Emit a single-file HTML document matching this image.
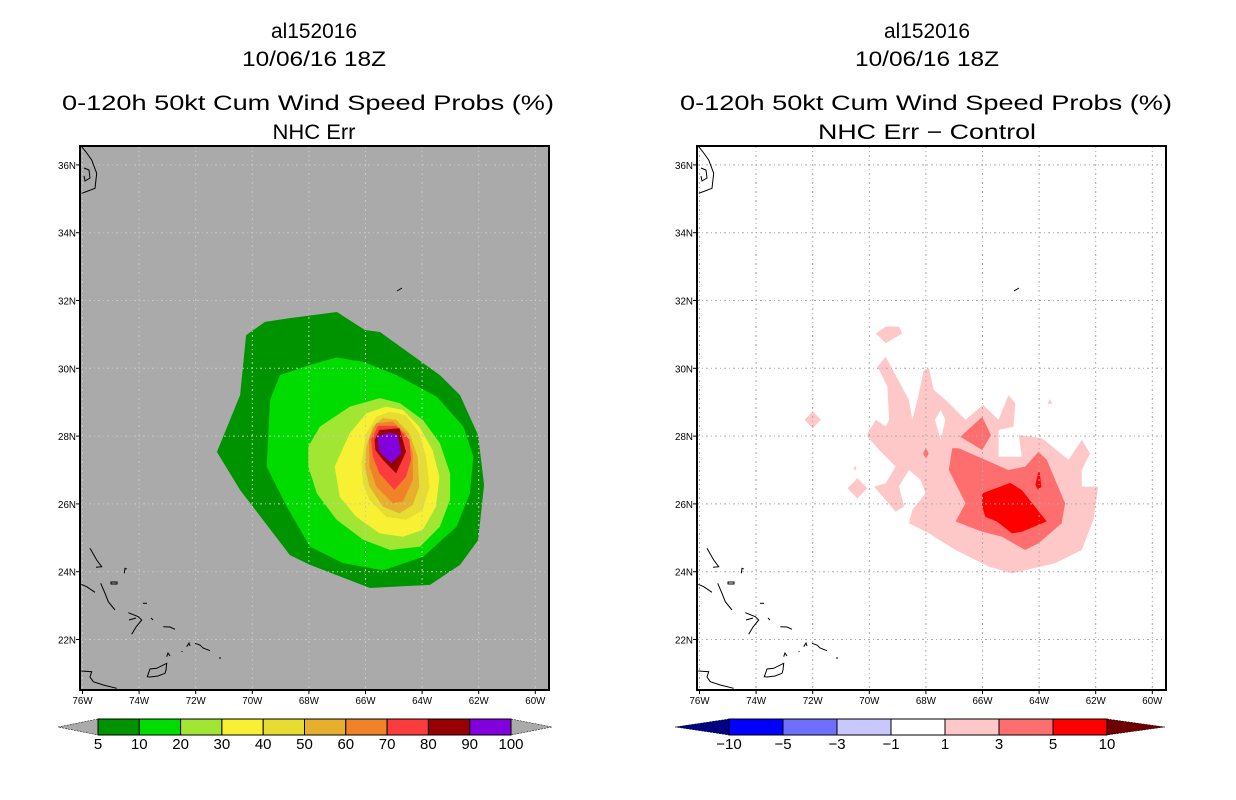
<!DOCTYPE html>
<html><head><meta charset="utf-8"><style>
html,body{margin:0;padding:0;background:#fff;}
svg{display:block;font-family:"Liberation Sans",sans-serif;}
</style></head><body>
<svg id="fig" width="1236" height="800" viewBox="0 0 1236 800" xmlns="http://www.w3.org/2000/svg">
  <g font-size="21" text-anchor="middle" fill="#000">
    <text x="314" y="38" textLength="86" lengthAdjust="spacingAndGlyphs">al152016</text>
    <text x="314" y="66" textLength="144" lengthAdjust="spacingAndGlyphs">10/06/16 18Z</text>
    <text x="308" y="110" textLength="492" lengthAdjust="spacingAndGlyphs">0-120h 50kt Cum Wind Speed Probs (%)</text>
    <text x="314" y="139" textLength="83" lengthAdjust="spacingAndGlyphs">NHC Err</text>
  </g>
  <g font-size="21" text-anchor="middle" fill="#000">
    <text x="927" y="38" textLength="86" lengthAdjust="spacingAndGlyphs">al152016</text>
    <text x="927" y="66" textLength="144" lengthAdjust="spacingAndGlyphs">10/06/16 18Z</text>
    <text x="926" y="110" textLength="492" lengthAdjust="spacingAndGlyphs">0-120h 50kt Cum Wind Speed Probs (%)</text>
    <text x="927" y="139" textLength="218" lengthAdjust="spacingAndGlyphs">NHC Err − Control</text>
  </g>
  <g id="left"></g>
  <g id="right"></g>
  <g id="cbL"></g>
  <g id="cbR"></g>
</svg>
<script>
// ---- data ----
const lonTicks = [76,74,72,70,68,66,64,62,60];
const latTicks = [36,34,32,30,28,26,24,22];
const probLevels = [5,10,20,30,40,50,60,70,80,90,100];
const probColors = ["#009300","#00dc00","#a0e632","#f8f032","#e6dc32","#e6af2d","#f08228","#fa3c3c","#960000","#8200dc"];
const diffLevels = ["−10","−5","−3","−1","1","3","5","10"];
const diffColors = ["#0000ff","#6e6eff","#c8c8ff","#ffffff","#ffc8c8","#ff6e6e","#ff0000"];
// probability contours: [lon W, lat N]
const prob5 = [[71.25,27.53],[70.43,29.21],[70.22,30.98],[69.55,31.37],[68.67,31.48],[67.01,31.66],[66.02,31.13],[65.49,31.07],[63.37,29.8],[62.66,29.21],[62.02,28.03],[61.81,26.56],[62.02,24.93],[62.66,24.2],[63.72,23.61],[65.84,23.52],[67.96,24.2],[68.67,24.49],[70.43,26.41]];
const prob10 = [[69.37,29.07],[69.02,29.8],[67.96,30.1],[67.02,30.32],[66.08,30.19],[64.9,29.8],[63.48,29.16],[62.54,28.28],[62.19,27.4],[62.31,26.31],[62.78,25.33],[63.96,24.44],[65.37,24.04],[66.78,24.25],[67.96,24.74],[68.78,25.92],[69.49,27.1]];
const prob20 = [[68.02,27.69],[67.61,28.28],[66.55,28.87],[65.49,29.12],[64.78,28.97],[63.96,28.47],[63.37,27.79],[63.01,26.9],[63.01,26.12],[63.37,25.33],[64.07,24.74],[65.13,24.64],[66.08,24.94],[67.02,25.53],[67.72,26.31],[68.02,27.1]];
const prob30 = [[67.09,27.1],[66.56,28.08],[65.97,28.67],[65.27,28.87],[64.68,28.77],[64.1,28.28],[63.63,27.59],[63.39,26.8],[63.51,25.92],[63.98,25.23],[64.68,25.03],[65.5,25.13],[66.33,25.62],[66.91,26.21]];
const prob40 = [[66.15,27.2],[65.97,28.08],[65.62,28.57],[65.15,28.72],[64.57,28.62],[64.1,28.08],[63.86,27.39],[63.74,26.51],[63.98,25.82],[64.57,25.53],[65.27,25.62],[65.86,26.12],[66.09,26.61]];
const prob50 = [[65.97,27.69],[65.74,28.28],[65.39,28.53],[64.92,28.48],[64.45,28.08],[64.16,27.39],[64.1,26.51],[64.33,25.97],[64.8,25.72],[65.39,25.92],[65.86,26.51],[66.03,27.1]];
const prob60 = [[65.88,27.89],[65.62,28.38],[65.04,28.43],[64.57,28.08],[64.33,27.49],[64.33,26.71],[64.68,26.07],[65.04,26.02],[65.62,26.51],[65.86,27.1]];
const prob70 = [[65.8,27.89],[65.56,28.3],[64.92,28.3],[64.45,27.89],[64.39,27.3],[64.57,26.8],[64.98,26.41],[65.51,26.9],[65.74,27.39]];
const prob80 = [[65.68,27.89],[65.51,28.18],[64.8,28.23],[64.57,27.54],[64.92,26.9],[65.39,27.3],[65.65,27.59]];
const prob90 = [[65.59,27.99],[65.15,28.1],[64.86,28.04],[64.74,27.49],[65.09,27.2],[65.51,27.54]];
const probPolys = [prob5,prob10,prob20,prob30,prob40,prob50,prob60,prob70,prob80,prob90];
// difference contours
const diff1Main = [[70.06,28.08],[69.77,28.48],[69.42,28.28],[69.3,28.48],[69.36,29.46],[69.71,30.05],[69.42,30.34],[68.6,29.07],[68.48,28.48],[68.3,29.07],[68.07,29.95],[67.89,30.0],[67.72,29.36],[67.31,29.07],[66.6,28.48],[65.98,28.92],[65.43,28.48],[65.08,29.21],[64.84,28.97],[64.9,28.28],[65.43,28.18],[65.43,27.39],[64.61,27.39],[64.72,28.03],[63.9,27.94],[62.96,27.3],[62.49,27.89],[62.2,27.49],[62.49,27.0],[62.49,26.51],[61.91,26.51],[62.08,25.53],[62.49,24.64],[63.43,24.25],[64.96,23.95],[65.78,24.15],[66.95,24.64],[67.89,25.13],[68.6,25.43],[68.48,25.82],[68.01,26.31],[68.19,26.71],[68.6,27.0],[68.95,26.51],[68.77,25.92],[69.07,25.77],[69.83,26.51],[69.42,26.61],[69.07,27.1],[69.65,27.59],[70.06,27.98]];
const diff1Hole = [[67.48,28.77],[67.31,28.48],[67.48,27.89],[67.68,28.48]];
const diff1Top = [[69.77,31.03],[69.42,31.23],[68.95,31.23],[68.83,31.03],[69.42,30.74]];
const diff1DiamondA = [[72.29,28.48],[72.0,28.73],[71.71,28.48],[72.0,28.23]];
const diff1DiamondB = [[70.77,26.46],[70.42,26.76],[70.07,26.46],[70.42,26.16]];
const diff1Tiny = [[63.7,28.95],[63.62,29.1],[63.54,28.95]];
const diff1Dot = [[70.55,27.05],[70.5,27.12],[70.45,27.05],[70.5,26.98]];
const diff3Main = [[67.19,27.0],[67.07,27.64],[66.84,27.64],[66.01,27.34],[65.08,27.0],[64.49,27.1],[64.02,27.54],[63.73,27.3],[63.08,26.02],[63.2,25.43],[64.02,24.84],[64.49,24.64],[65.31,25.03],[66.01,25.18],[66.95,25.48],[66.6,26.02]];
const diff3Top = [[66.78,27.98],[66.01,28.57],[65.7,28.03],[66.01,27.59]];
const diff3Dot = [[68.1,27.49],[68.0,27.65],[67.9,27.49],[68.0,27.33]];
const diff5Main = [[66.01,26.31],[65.02,26.62],[64.61,26.41],[63.73,25.48],[64.61,25.18],[64.96,25.13],[65.49,25.48],[65.9,25.62],[66.01,25.92]];
const diff5Small = [[64.04,26.9],[63.99,27.0],[63.92,26.5],[64.04,26.41],[64.13,26.56]];

// ---- axes ----
const NS = "http://www.w3.org/2000/svg";
function mk(tag, attrs, parent){ const e=document.createElementNS(NS,tag); for(const k in attrs) e.setAttribute(k,attrs[k]); parent.appendChild(e); return e; }
const X0=80, Y0=146, W=469, H=544;
function xScale(lon){ return 82.5 + (76-lon)*28.3; }
function yScale(lat){ return 368.3 - (lat-30)*33.9; }
function pts(poly, dx){ return poly.map(p=>(xScale(p[0])+dx).toFixed(1)+","+yScale(p[1]).toFixed(1)).join(" "); }

// coastlines (decorative, pixel offsets relative to left frame)
const coastPaths = [
 "M81.7,146.7 L86,152 L91.7,160 L96.7,173.3 L95,188.3 L88,191 L81.7,193.3",
 "M84,168 L89,170 L90,178 L85,181 L84,176",
 "M90,548.3 L96.7,560 L101.7,566.7 L96,567.3",
 "M81.3,584.3 L86.7,586.7 L95,592.3",
 "M100.7,583.3 L105,593.3 L108.3,601.7 L115,610",
 "M111,582 L117,582 L117,584 L111,584 Z",
 "M124.3,573.3 L125,568.3 L126.7,569",
 "M143,603.3 L147,603.3",
 "M128.3,612.7 L138.3,616.7 L141.7,620 L136,627 L131.7,634.3 M129,620 L136,618",
 "M151,618 L153,620",
 "M163.3,626.7 L170,627 L175,629.3",
 "M186.7,646.7 L189,643 L190,646",
 "M195,643.3 L200,645 L203,648 L210,650.7",
 "M182,651 L182,652",
 "M220,657 L220,659",
 "M166.7,656.7 L168,653 L170,656",
 "M147.3,676.7 L150,669 L156.7,668.3 L166.7,663.3 L166,670 L165,673.3 L158,676 L150,677 Z",
 "M81.3,671 L91.7,671.7 L90,677 L93.3,681.7 L103.3,685 L116.7,688.3",
 "M397,291 L402,288"
];

function drawPanel(g, dx, bg, fillFn){
  const clipId = "clip"+dx;
  const cp = mk("clipPath",{id:clipId},g);
  mk("rect",{x:X0+dx,y:Y0,width:W,height:H},cp);
  const bgR = mk("rect",{x:X0+dx,y:Y0,width:W,height:H,fill:bg},g);
  
  
  const cont = mk("g",{"clip-path":"url(#"+clipId+")"},g);
  
  
  fillFn(cont);
  const grid = mk("g",{stroke:bg==="#ffffff"?"#aaaaaa":"#c8c8c8","stroke-width":1,"stroke-dasharray":"2,3,1,3",fill:"none"},g);
  
  
  lonTicks.forEach(l=>{ const x=xScale(l)+dx; if(x>X0+dx+2&&x<X0+dx+W-2) mk("line",{x1:x,y1:Y0,x2:x,y2:Y0+H},grid); });
  latTicks.forEach(l=>{ const y=yScale(l); mk("line",{x1:X0+dx,y1:y,x2:X0+dx+W,y2:y},grid); });
  const coast = mk("g",{stroke:"#000","stroke-width":1,fill:"none","clip-path":"url(#"+clipId+")"},g);
  
  
  coastPaths.forEach(d=>{ mk("path",{d:d,transform:"translate("+dx+",0)"},coast); });
  const fr = mk("rect",{x:X0+dx,y:Y0,width:W,height:H,fill:"none",stroke:"#000","stroke-width":2},g);
  
  
  const ax = mk("g",{"font-size":"10",fill:"#000"},g);
  
  
  lonTicks.forEach(l=>{
    const x=xScale(l)+dx;
    mk("line",{x1:x,y1:Y0+H,x2:x,y2:Y0+H+4,stroke:"#000"},ax);
    const t=mk("text",{x:x,y:Y0+H+14,"text-anchor":"middle",textLength:20,lengthAdjust:"spacingAndGlyphs"},ax);
    t.textContent=l+"W";
    
    
  });
  latTicks.forEach(l=>{
    const y=yScale(l);
    mk("line",{x1:X0+dx-4,y1:y,x2:X0+dx,y2:y,stroke:"#000"},ax);
    const t=mk("text",{x:X0+dx-4,y:y+4,"text-anchor":"end",textLength:18,lengthAdjust:"spacingAndGlyphs"},ax);
    t.textContent=l+"N";
    
    
  });
}

drawPanel(document.getElementById("left"),0,"#aaaaaa",function(c){
  probPolys.forEach((p,i)=>{
    const e=mk("polygon",{points:pts(p,0),fill:probColors[i]},c);
    
    
  });
});
drawPanel(document.getElementById("right"),617,"#ffffff",function(c){
  const lp=[diff1Main,diff1Top,diff1DiamondA,diff1DiamondB,diff1Tiny,diff1Dot];
  lp.forEach(p=>{
    const e=mk("polygon",{points:pts(p,617),fill:diffColors[4]},c);
    
    
  });
  const h=mk("polygon",{points:pts(diff1Hole,617),fill:"#ffffff"},c);
  
  
  [diff3Main,diff3Top,diff3Dot].forEach(p=>{
    const e=mk("polygon",{points:pts(p,617),fill:diffColors[5]},c);
    
    
  });
  [diff5Main,diff5Small].forEach(p=>{
    const e=mk("polygon",{points:pts(p,617),fill:diffColors[6]},c);
    
    
  });
});

// ---- colorbars ----
function colorbar(g, x0, bw, tipL, tipR, colors, labels, lowTip, highTip, labelOffset){
  const y0=719, h=16;
  const n=colors.length, x1=x0+bw*n;
  let e=mk("polygon",{points:`${x0},${y0} ${tipL},${y0+h/2} ${x0},${y0+h}`,fill:lowTip,stroke:"#000","stroke-width":0.5,"stroke-dasharray":"2,1"},g);
  
  
  e=mk("polygon",{points:`${x1},${y0} ${tipR},${y0+h/2} ${x1},${y0+h}`,fill:highTip,stroke:"#000","stroke-width":0.5,"stroke-dasharray":"2,1"},g);
  
  
  colors.forEach((c,i)=>{
    const r=mk("rect",{x:x0+i*bw,y:y0,width:bw,height:h,fill:c,stroke:"#000","stroke-width":1},g);
    
    
  });
  labels.forEach((l,i)=>{
    const t=mk("text",{x:x0+(i+labelOffset)*bw,y:y0+h+14,"text-anchor":"middle","font-size":"15",fill:"#000"},g);
    t.textContent=l;
    
    
  });
}
colorbar(document.getElementById("cbL"),98,41.3,58,552,probColors,probLevels,"#aaaaaa","#aaaaaa",0);
colorbar(document.getElementById("cbR"),729,54,675,1165,diffColors,diffLevels,"#000080","#6e0000",0);
</script>
</body></html>
